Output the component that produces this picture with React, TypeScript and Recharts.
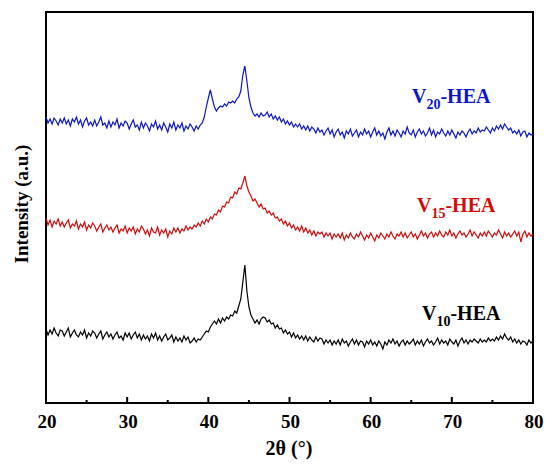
import React from "react";
import { LineChart, Line, XAxis, YAxis, ReferenceArea, Customized } from "recharts";

// 2θ grid: start angle and step (degrees)
const startAngle = 20;
const stepAngle = 0.25;

const xTicks = [20, 25, 30, 35, 40, 45, 50, 55, 60, 65, 70, 75, 80];

const seriesNames = ["V20-HEA", "V15-HEA", "V10-HEA"];

// V20-HEA (blue), offset trace
const v20 = [
  286, 280, 284, 279, 285, 282, 278, 284,
  280, 285, 279, 283, 277, 284, 281, 286,
  279, 283, 276, 282, 285, 278, 281, 277,
  283, 277, 281, 286, 278, 280, 275, 282,
  276, 281, 278, 284, 275, 280, 277, 282,
  280, 274, 279, 283, 276, 278, 273, 281,
  275, 280, 277, 272, 279, 276, 282, 274,
  278, 273, 280, 276, 271, 279, 275, 281,
  273, 278, 275, 280, 272, 277, 274, 279,
  276, 272, 277, 274,
  278, 280, 286, 296,
  305, 313, 304, 296,
  292, 295, 297, 296,
  299, 297, 301, 300,
  302, 300, 304, 306,
  312, 328, 337, 322,
  305, 296, 290, 287,
  289, 286, 290, 287,
  288, 291, 286, 289,
  284, 287, 283, 286,
  281, 284, 279, 282,
  278, 281, 276, 279,
  276, 279, 274, 277,
  273, 277, 272, 276,
  274, 270, 275, 271,
  273, 268, 272, 275,
  269, 273, 266, 271,
  274, 268, 271, 265,
  272, 269, 274, 267,
  270, 273, 266, 271,
  268, 274, 269, 272,
  266, 271, 275, 268,
  272, 267, 270, 264,
  271, 275, 268, 272,
  267, 273, 270, 266,
  272, 269, 276, 270,
  268, 273, 266, 271,
  274, 269, 272, 267,
  270, 275, 268, 273,
  266, 271, 269, 274,
  270, 267, 272, 268,
  273, 269, 265, 271,
  268, 272, 270, 266,
  271, 274, 269, 272,
  270, 275, 271, 273,
  272, 276, 273, 270,
  275, 272, 277, 274,
  278, 274, 279, 276,
  273, 275, 270, 272,
  269, 273, 267, 271,
  272, 266, 270, 268,
  269,
];

// V15-HEA (red)
const v15 = [
  185, 178, 183, 176, 182, 179, 184, 177,
  181, 176, 180, 183, 175, 179, 177, 182,
  174, 179, 176, 181, 173, 178, 175, 180,
  177, 172, 176, 179, 171, 175, 178, 173,
  176, 171, 175, 178, 170, 174, 172, 177,
  170, 175, 172, 176, 169, 174, 171, 177,
  174, 169, 173, 167, 175, 171, 170, 176,
  168, 173, 170, 174, 166, 172, 169, 175,
  171, 175, 170, 174, 172, 177, 173, 176,
  174, 178, 176, 180,
  177, 182, 179, 184,
  181, 186, 184, 189,
  188, 193, 191, 197,
  196, 201, 200, 206,
  205, 211, 209, 215,
  214, 220, 227, 217,
  211, 207, 202, 204,
  200, 196, 199, 194,
  195, 190, 192, 188,
  190, 185, 186, 182,
  184, 179, 182, 177,
  180, 175, 178, 173,
  176, 172, 177, 171,
  175, 170, 173, 168,
  172, 167, 171, 169,
  171, 166, 170, 167,
  170, 164, 169, 166,
  169, 165, 170, 163,
  168, 165, 170, 166,
  164, 169, 166, 171,
  167, 163, 168, 165,
  170, 166, 162, 168,
  165, 170, 167, 164,
  169, 166, 171, 167,
  164, 169, 167, 171,
  166, 170, 165, 168,
  171, 166, 169, 164,
  168, 172, 167, 170,
  165, 169, 171, 166,
  170, 167, 172, 168,
  166, 171, 168, 173,
  167, 170, 165, 169,
  172, 168, 170, 166,
  169, 173, 167, 171,
  168, 165, 170, 167,
  171, 167, 172, 169,
  166, 170, 168, 173,
  169, 165, 171, 167,
  170, 166, 169, 172,
  167, 171, 161, 169,
  172, 166, 170, 167,
  169,
];

// V10-HEA (black)
const v10 = [
  74, 68, 73, 69, 75, 70, 67, 73,
  72, 67, 71, 75, 66, 70, 73, 68,
  66, 71, 68, 73, 65, 70, 67, 72,
  70, 65, 69, 72, 64, 68, 71, 66,
  69, 64, 68, 71, 65, 67, 63, 70,
  66, 70, 64, 68, 71, 65, 69, 63,
  68, 64, 67, 62, 69, 65, 70, 63,
  67, 62, 66, 69, 63, 65, 68, 61,
  66, 62, 65, 61, 67, 63, 66, 60,
  62, 65, 61, 64,
  63, 66, 69, 72,
  71, 76, 79, 82,
  79, 84, 80, 85,
  82, 86, 84, 88,
  87, 92, 90, 97,
  104, 121, 138, 112,
  96, 88, 84, 80,
  83, 79, 84, 86,
  85, 81, 83, 79,
  80, 75, 78, 74,
  75, 70, 73, 69,
  71, 66, 70, 65,
  68, 64, 67, 63,
  67, 62, 66, 63,
  61, 66, 62, 65,
  64, 59, 63, 60,
  63, 58, 62, 59,
  63, 58, 64, 60,
  62, 57, 61, 64,
  59, 63, 58, 62,
  61, 56, 62, 59,
  63, 58, 61, 57,
  62, 59, 54, 61,
  58, 63, 60, 64,
  59, 62, 57, 61,
  63, 58, 62, 59,
  61, 64, 58, 62,
  59, 63, 57, 61,
  64, 60, 62, 58,
  61, 65, 59, 63,
  60, 62, 58, 64,
  61, 59, 63, 57,
  62, 65, 60, 63,
  59, 63, 61, 64,
  62, 60, 64, 61,
  63, 61, 65, 62,
  64, 62, 66, 63,
  67, 64, 69, 65,
  63, 66, 61, 64,
  60, 63, 59, 62,
  61, 58, 63, 60,
  62,
];

const nPoints = Math.max(v20.length, v15.length, v10.length);
const data = Array.from({ length: nPoints }, (_, i) => ({
  angle: startAngle + i * stepAngle,
  v20: v20[i],
  v15: v15[i],
  v10: v10[i],
}));

const FONT = "Liberation Serif";
const BLUE = "#0c16c6";
const RED = "#d20a0a";

const txt: React.CSSProperties = { fontFamily: FONT, fontWeight: 700 };

const AxisTick = (props: any) => {
  const { x, y, payload } = props;
  const v = payload.value as number;
  const major = v % 10 === 0;
  return (
    <g>
      <line x1={x} x2={x} y1={y} y2={y - (major ? 6 : 3)} stroke="#000" strokeWidth={2} />
      {major && (
        <text x={x + 1} y={y + 25} textAnchor="middle" style={{ ...txt, fontSize: 19 }} fill="#000">
          {v}
        </text>
      )}
    </g>
  );
};

const SeriesLabel = ({ x, y, sub, color }: { x: number; y: number; sub: string; color: string }) => (
  <text x={x} y={y} style={{ ...txt, fontSize: 20 }} fill={color}>
    V
    <tspan style={{ fontSize: 14 }} dy={6}>{sub}</tspan>
    <tspan dy={-6}>-HEA</tspan>
  </text>
);

const Labels = () => (
  <g>
    <SeriesLabel x={412} y={103} sub="20" color={BLUE} />
    <SeriesLabel x={417} y={212} sub="15" color={RED} />
    <SeriesLabel x={422} y={320} sub="10" color="#000" />
    <text x={289} y={455} textAnchor="middle" style={{ ...txt, fontSize: 20 }} fill="#000">
      2θ (°)
    </text>
    <text x={0} y={0} transform="translate(28,204) rotate(-90)" textAnchor="middle" style={{ ...txt, fontSize: 19 }} fill="#000">
      Intensity (a.u.)
    </text>
  </g>
);

export default function App() {
  return (
    <div style={{ position: "absolute", left: 0, top: 0, width: 546, height: 464, background: "#fff" }}>
      <LineChart width={546} height={464} data={data} margin={{ top: 12, right: 13, bottom: 0, left: 46 }}>
        <XAxis
          dataKey="angle"
          type="number"
          domain={[20, 80]}
          ticks={xTicks}
          interval={0}
          tick={<AxisTick />}
          tickLine={false}
          axisLine={false}
          tickSize={0}
          tickMargin={0}
          height={61}
        />
        <YAxis type="number" domain={[0, 391]} hide />
        <Line dataKey="v10" name={seriesNames[2]} stroke="#000" strokeWidth={1.2} dot={false} isAnimationActive={false} />
        <Line dataKey="v15" name={seriesNames[1]} stroke={RED} strokeWidth={1.2} dot={false} isAnimationActive={false} />
        <Line dataKey="v20" name={seriesNames[0]} stroke={BLUE} strokeWidth={1.2} dot={false} isAnimationActive={false} />
        <ReferenceArea x1={20} x2={80} y1={0} y2={391} fill="none" stroke="#000" strokeWidth={2} ifOverflow="visible" />
        <Customized component={<Labels />} />
      </LineChart>
    </div>
  );
}
